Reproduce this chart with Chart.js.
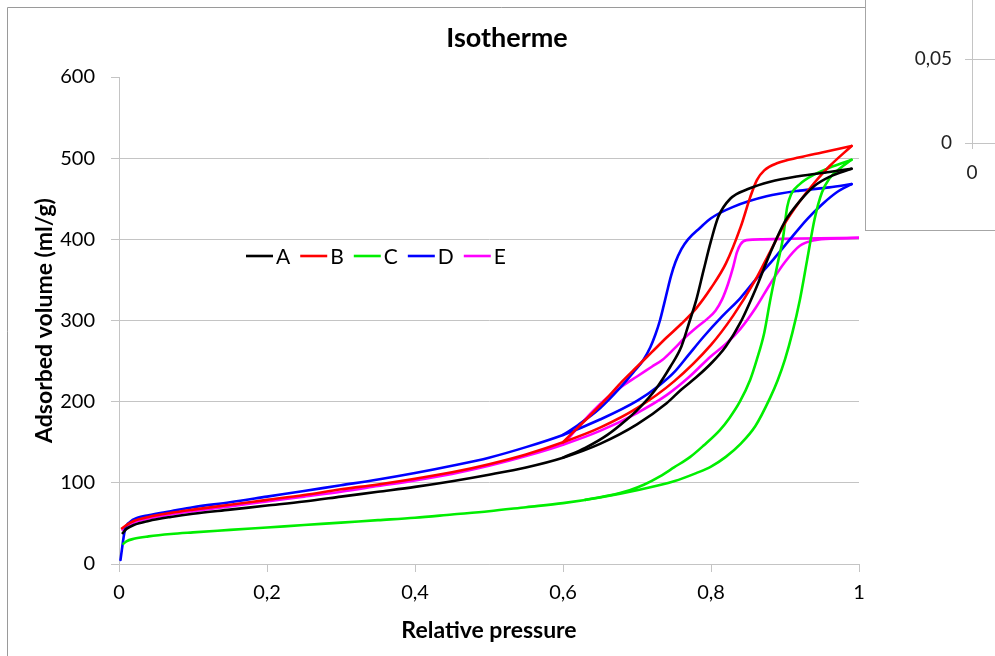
<!DOCTYPE html>
<html>
<head>
<meta charset="utf-8">
<script src="https://cdn.jsdelivr.net/npm/chart.js@4.4.1/dist/chart.umd.min.js"></script>
<style>
  html, body { margin: 0; padding: 0; background: #fff; overflow: hidden; }
  #wrap { position: relative; width: 995px; height: 656px; }
  #main { position: absolute; left: 0; top: 0; }
  #inset { position: absolute; left: 865px; top: 0; width: 130px; height: 230px;
           border-left: 1px solid #a6a6a6; border-bottom: 1px solid #a6a6a6;
           overflow: hidden; background: #fff; }
  #insetCanvas { position: absolute; left: 0; top: -60px; }
</style>
</head>
<body>
<div id="wrap">
  <canvas id="main" width="995" height="656"></canvas>
  <div id="inset"><canvas id="insetCanvas" width="300" height="320"></canvas></div>
</div>
<script>
// ---- Isotherm data: [relative pressure, adsorbed volume (ml/g)] ----
const A_ads = [[0.005,38],[0.01,43],[0.02,48],[0.04,53],[0.07,58],[0.1,62],[0.15,67],[0.2,72],[0.25,77],[0.3,83],[0.35,89],[0.4,95],[0.45,102],[0.5,110],[0.55,119],[0.6,131],[0.65,148],[0.7,172],[0.74,198],[0.76,215],[0.78,230],[0.8,247],[0.82,268],[0.84,298],[0.86,338],[0.88,383],[0.9,422],[0.92,447],[0.94,466],[0.96,477],[0.99,487]];
const A_des = [[0.6,131],[0.63,143],[0.66,159],[0.685,177],[0.705,194],[0.725,215],[0.745,243],[0.76,268],[0.77,296],[0.78,325],[0.79,362],[0.8,398],[0.81,428],[0.826,450],[0.85,462],[0.88,471],[0.92,478],[0.96,483],[0.99,487]];

const B_ads = [[0.004,44],[0.01,48],[0.02,53],[0.04,58],[0.07,63],[0.1,67],[0.15,73],[0.2,79],[0.25,85],[0.3,92],[0.35,98],[0.4,105],[0.45,113],[0.5,123],[0.55,135],[0.6,150],[0.65,168],[0.7,192],[0.75,225],[0.8,270],[0.83,306],[0.86,350],[0.88,385],[0.9,420],[0.92,447],[0.94,470],[0.96,490],[0.99,515]];
const B_des = [[0.6,150],[0.62,168],[0.64,186],[0.66,205],[0.68,225],[0.7,243],[0.72,261],[0.74,279],[0.76,296],[0.78,315],[0.8,340],[0.82,370],[0.84,415],[0.853,452],[0.862,473],[0.872,485],[0.89,494],[0.92,501],[0.95,507],[0.99,515]];

const C_ads = [[0.006,25],[0.01,28],[0.02,31],[0.04,34],[0.07,37],[0.1,39],[0.15,42],[0.2,45],[0.25,48],[0.3,51],[0.35,54],[0.4,57],[0.45,61],[0.5,65],[0.55,70],[0.6,75],[0.65,82],[0.7,91],[0.75,102],[0.78,112],[0.8,120],[0.82,132],[0.84,148],[0.86,170],[0.88,205],[0.89,226],[0.9,252],[0.91,285],[0.92,325],[0.93,375],[0.94,425],[0.95,458],[0.96,475],[0.975,488],[0.99,498]];
const C_des = [[0.63,79],[0.66,84],[0.69,91],[0.71,98],[0.731,108],[0.75,119],[0.772,132],[0.79,146],[0.812,165],[0.825,180],[0.839,200],[0.853,227],[0.862,252],[0.872,285],[0.88,325],[0.89,370],[0.897,400],[0.903,440],[0.908,455],[0.92,468],[0.94,480],[0.965,490],[0.99,498]];

const D_ads = [[0.002,5],[0.008,42],[0.015,52],[0.025,57],[0.04,60],[0.07,65],[0.1,70],[0.15,76],[0.2,83],[0.25,90],[0.3,97],[0.35,104],[0.4,112],[0.45,121],[0.5,131],[0.55,144],[0.6,159],[0.65,178],[0.7,201],[0.73,220],[0.75,236],[0.77,258],[0.79,280],[0.815,305],[0.84,328],[0.86,350],[0.885,376],[0.905,398],[0.93,425],[0.95,443],[0.97,458],[0.99,468]];
const D_des = [[0.6,159],[0.62,171],[0.65,192],[0.677,217],[0.695,236],[0.709,252],[0.718,267],[0.725,283],[0.731,300],[0.736,318],[0.741,337],[0.746,355],[0.752,372],[0.76,388],[0.769,400],[0.785,414],[0.8,426],[0.83,440],[0.875,453],[0.92,460],[0.96,464],[0.99,468]];

const E_ads = [[0.005,42],[0.01,46],[0.02,51],[0.04,56],[0.07,61],[0.1,65],[0.15,71],[0.2,77],[0.25,83],[0.3,89],[0.35,96],[0.4,103],[0.45,111],[0.5,121],[0.55,133],[0.6,147],[0.65,164],[0.7,186],[0.74,208],[0.77,230],[0.8,256],[0.82,271],[0.84,290],[0.86,315],[0.88,345],[0.9,372],[0.92,392],[0.94,399],[0.97,401],[1.0,402]];
const E_des = [[0.6,147],[0.62,168],[0.64,188],[0.66,205],[0.68,219],[0.7,231],[0.72,243],[0.735,252],[0.75,265],[0.765,279],[0.78,291],[0.795,302],[0.806,312],[0.815,326],[0.823,345],[0.83,366],[0.835,384],[0.84,394],[0.848,399],[0.87,400],[0.92,401],[1.0,402]];

const sampleNames  = ['A', 'B', 'C', 'D', 'E'];
const sampleColors = ['#000000', '#ff0000', '#00ee00', '#0000ff', '#ff00ff'];
const branches = [[A_ads, A_des], [B_ads, B_des], [C_ads, C_des], [D_ads, D_des], [E_ads, E_des]];

const xTicks = [0, 0.2, 0.4, 0.6, 0.8, 1];
const xTickLabels = ['0', '0,2', '0,4', '0,6', '0,8', '1'];
const yTicks = [0, 100, 200, 300, 400, 500, 600];

const insetYTicks = [0, 0.05, 0.1];
const insetYTickLabels = ['0', '0,05', '0,1'];
const insetXTicks = [0];
const insetXTickLabels = ['0'];

const FONT = 'Lato, "Open Sans", sans-serif';
const GRID = '#c4c4c4';
const TEXT = '#000000';

// one line per branch; the adsorption branch carries the legend entry
function line(points, color, label, inLegend) {
  return {
    label: label,
    data: points.map(([x, y]) => ({ x, y })),
    borderColor: color,
    backgroundColor: color,
    borderWidth: 2.6,
    pointRadius: 0,
    pointHoverRadius: 0,
    showLine: true,
    fill: false,
    cubicInterpolationMode: 'monotone',
    borderJoinStyle: 'round',
    borderCapStyle: 'round',
    inLegend: inLegend
  };
}

const datasets = [];
branches.forEach(([ads, des], i) => {
  datasets.push(line(ads, sampleColors[i], sampleNames[i], true));
  datasets.push(line(des, sampleColors[i], sampleNames[i], false));
});

// frame, title and in-plot legend
const decor = {
  id: 'decor',
  beforeDraw(chart) {
    const ctx = chart.ctx;
    ctx.save();
    ctx.fillStyle = '#ffffff';
    ctx.fillRect(0, 0, chart.width, chart.height);
    ctx.strokeStyle = '#9a9a9a';
    ctx.lineWidth = 1;
    ctx.beginPath();
    ctx.moveTo(7.5, chart.height);
    ctx.lineTo(7.5, 7.5);
    ctx.lineTo(chart.width, 7.5);
    ctx.stroke();
    ctx.restore();
  },
  afterDraw(chart) {
    const ctx = chart.ctx;
    ctx.save();
    ctx.fillStyle = TEXT;
    ctx.font = 'bold 27px ' + FONT;
    ctx.textAlign = 'center';
    ctx.textBaseline = 'middle';
    ctx.fillText('Isotherme', 507, 38);

    // legend
    ctx.font = '21px ' + FONT;
    ctx.textAlign = 'left';
    let x = 246;
    const y = 256;
    chart.data.datasets.filter(d => d.inLegend).forEach(d => {
      ctx.strokeStyle = d.borderColor;
      ctx.lineWidth = 2.6;
      ctx.beginPath();
      ctx.moveTo(x, y);
      ctx.lineTo(x + 27, y);
      ctx.stroke();
      ctx.fillStyle = TEXT;
      ctx.fillText(d.label, x + 30, y + 1);
      x += 30 + ctx.measureText(d.label).width + 10;
    });
    ctx.restore();
  }
};

new Chart(document.getElementById('main'), {
  type: 'scatter',
  data: { datasets: datasets },
  options: {
    responsive: false,
    animation: false,
    devicePixelRatio: 1,
    layout: { padding: { top: 77, right: 136, bottom: 0, left: 0 } },
    plugins: { legend: { display: false }, tooltip: { enabled: false }, title: { display: false } },
    scales: {
      x: {
        type: 'linear', min: 0, max: 1,
        afterBuildTicks: s => { s.ticks = xTicks.map(v => ({ value: v })); },
        afterFit: s => { s.height = 92; },
        ticks: {
          callback: (v, i) => xTickLabels[i],
          font: { family: FONT, size: 20 }, color: TEXT, padding: 9, maxRotation: 0, autoSkip: false
        },
        grid: { drawOnChartArea: false, drawTicks: true, tickLength: 8, tickColor: GRID },
        border: { color: GRID, width: 1 },
        title: {
          display: true, text: 'Relative pressure', color: TEXT,
          font: { family: FONT, size: 23, weight: 'bold' }, padding: { top: 0, bottom: 12 }
        }
      },
      y: {
        type: 'linear', min: 0, max: 600,
        afterBuildTicks: s => { s.ticks = yTicks.map(v => ({ value: v })); },
        afterFit: s => { s.width = 119; },
        ticks: { font: { family: FONT, size: 20 }, color: TEXT, padding: 16 },
        grid: {
          color: c => (c.tick && c.tick.value === 600) ? 'rgba(0,0,0,0)' : GRID,
          tickColor: GRID, tickLength: 8, lineWidth: 1
        },
        border: { color: GRID, width: 1 },
        title: {
          display: true, text: 'Adsorbed volume (ml/g)', color: TEXT,
          font: { family: FONT, size: 23, weight: 'bold' }, padding: { top: 31, bottom: 0 }
        }
      }
    }
  },
  plugins: [decor]
});

// neighbouring panel (partly visible at the top right)
new Chart(document.getElementById('insetCanvas'), {
  type: 'scatter',
  data: { datasets: [{ data: [], pointRadius: 0 }] },
  options: {
    responsive: false,
    animation: false,
    devicePixelRatio: 1,
    layout: { padding: { top: 35, right: 0, bottom: 0, left: 0 } },
    plugins: { legend: { display: false }, tooltip: { enabled: false } },
    scales: {
      x: {
        type: 'linear', min: 0, max: 1,
        afterBuildTicks: s => { s.ticks = insetXTicks.map(v => ({ value: v })); },
        afterFit: s => { s.height = 117; },
        ticks: { callback: (v, i) => insetXTickLabels[i], font: { family: FONT, size: 19 }, color: '#222', padding: 12, maxRotation: 0 },
        grid: { drawOnChartArea: false, tickLength: 6, tickColor: GRID },
        border: { color: GRID }
      },
      y: {
        type: 'linear', min: 0, max: 0.1,
        afterBuildTicks: s => { s.ticks = insetYTicks.map(v => ({ value: v })); },
        afterFit: s => { s.width = 106; },
        ticks: { callback: (v, i) => insetYTickLabels[i], font: { family: FONT, size: 19 }, color: '#222', padding: 13 },
        grid: { color: GRID, tickColor: GRID, tickLength: 7 },
        border: { color: GRID }
      }
    }
  }
});
</script>
</body>
</html>
